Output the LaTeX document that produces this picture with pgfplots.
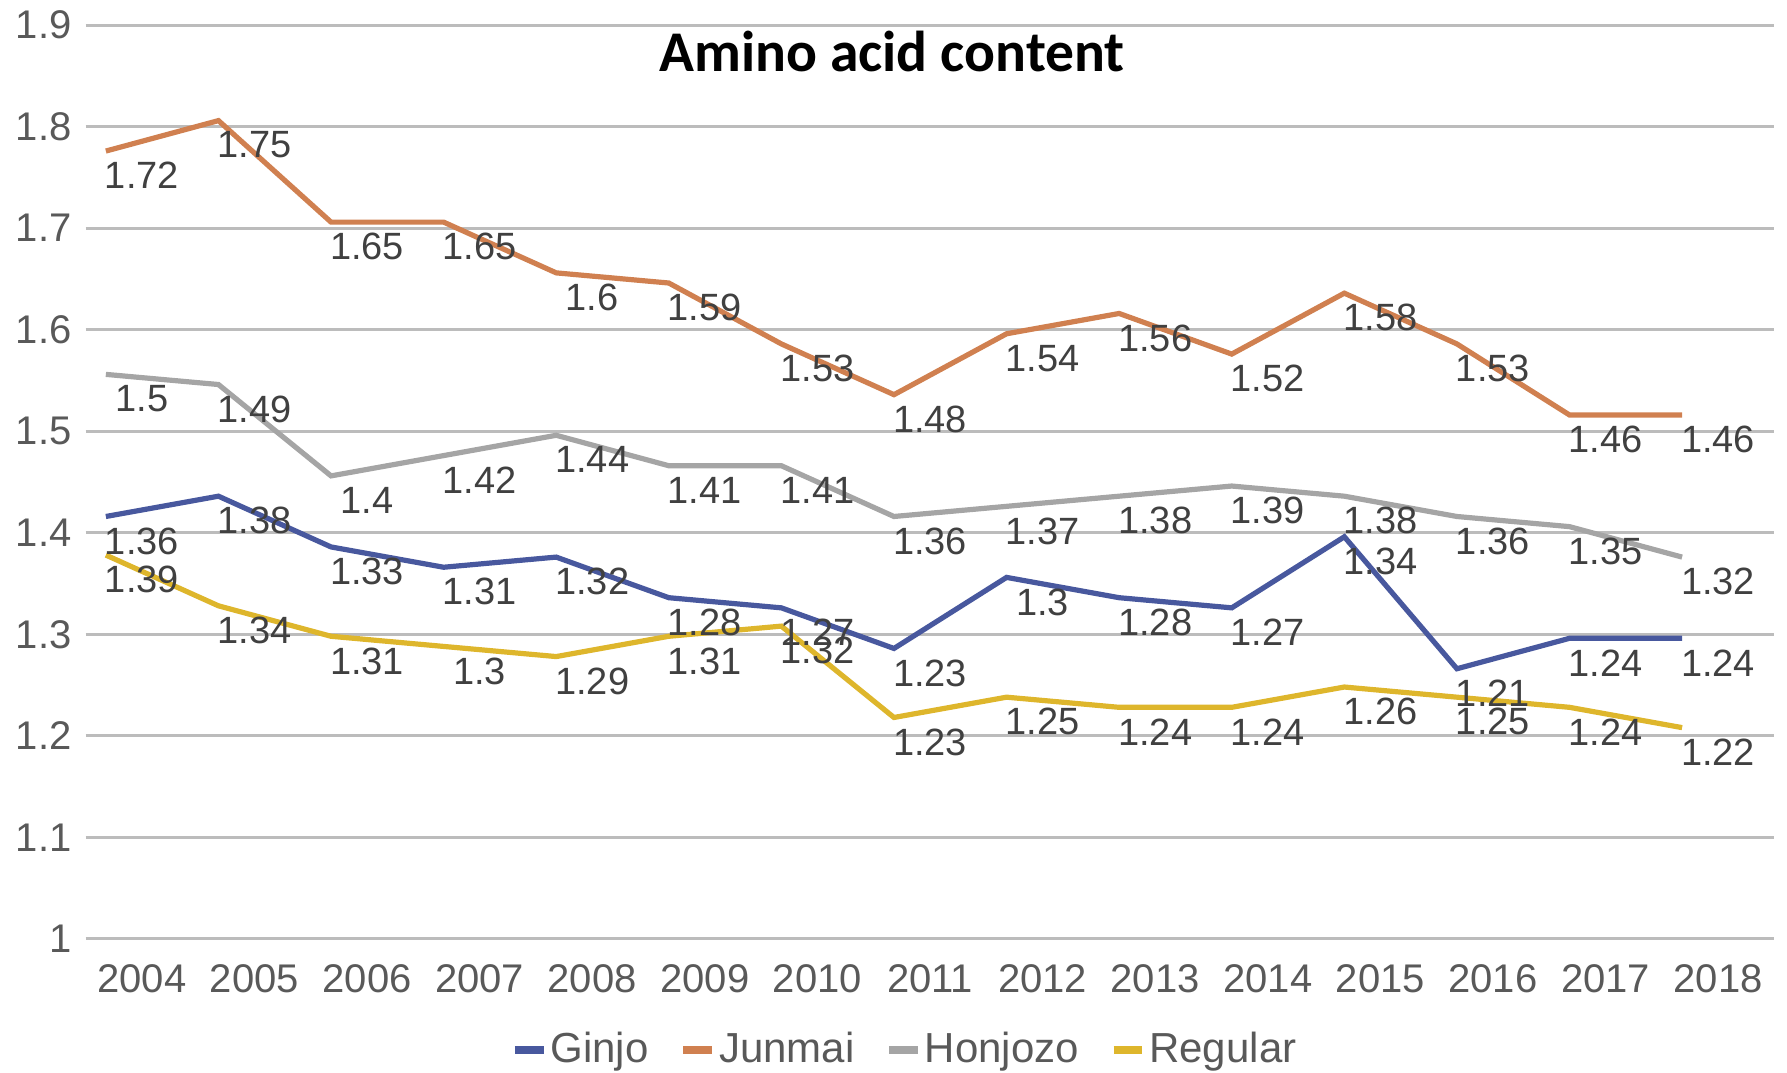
\documentclass[border=0pt]{standalone}
\usepackage{fontspec}
\setmainfont{Liberation Sans}
\newfontfamily\titlefont{Carlito}
\usepackage{pgfplots}
\usepackage{pgfplotstable}
\pgfplotsset{compat=1.18}
\definecolor{cGinjo}{RGB}{72,88,158}
\definecolor{cJunmai}{RGB}{208,128,80}
\definecolor{cHonjozo}{RGB}{165,165,165}
\definecolor{cRegular}{RGB}{222,182,44}
\definecolor{cGrid}{RGB}{188,188,188}
\definecolor{cTick}{RGB}{89,89,89}
\definecolor{cLab}{RGB}{64,64,64}

\pgfplotstableread{
xl y lab
0 1.416 1.36
1 1.436 1.38
2 1.386 1.33
3 1.366 1.31
4 1.376 1.32
5 1.336 1.28
6 1.326 1.27
7 1.286 1.23
8 1.356 1.3
9 1.336 1.28
10 1.326 1.27
11 1.396 1.34
12 1.266 1.21
13 1.296 1.24
14 1.296 1.24
}\ginjo
\pgfplotstableread{
xl y lab
0 1.776 1.72
1 1.806 1.75
2 1.706 1.65
3 1.706 1.65
4 1.656 1.6
5 1.646 1.59
6 1.586 1.53
7 1.536 1.48
8 1.596 1.54
9 1.616 1.56
10 1.576 1.52
11 1.636 1.58
12 1.586 1.53
13 1.516 1.46
14 1.516 1.46
}\junmai
\pgfplotstableread{
xl y lab
0 1.556 1.5
1 1.546 1.49
2 1.456 1.4
3 1.476 1.42
4 1.496 1.44
5 1.466 1.41
6 1.466 1.41
7 1.416 1.36
8 1.426 1.37
9 1.436 1.38
10 1.446 1.39
11 1.436 1.38
12 1.416 1.36
13 1.406 1.35
14 1.376 1.32
}\honjozo
\pgfplotstableread{
xl y lab
0 1.378 1.39
1 1.328 1.34
2 1.298 1.31
3 1.288 1.3
4 1.278 1.29
5 1.298 1.31
6 1.308 1.32
7 1.218 1.23
8 1.238 1.25
9 1.228 1.24
10 1.228 1.24
11 1.248 1.26
12 1.238 1.25
13 1.228 1.24
14 1.208 1.22
}\regular

\begin{document}
\begin{tikzpicture}
\begin{axis}[
  scale only axis,
  width=422.2pt, height=228.4pt,
  xmin=-0.5, xmax=14.5,
  ymin=1, ymax=1.9,
  ytick={1,1.1,1.2,1.3,1.4,1.5,1.6,1.7,1.8,1.9},
  yticklabels={1,1.1,1.2,1.3,1.4,1.5,1.6,1.7,1.8,1.9},
  xtick={0,1,2,3,4,5,6,7,8,9,10,11,12,13,14},
  xticklabels={2004,2005,2006,2007,2008,2009,2010,2011,2012,2013,2014,2015,2016,2017,2018},
  axis line style={draw=none},
  major tick length=0pt,
  tick style={draw=none},
  ymajorgrids,
  grid style={cGrid, line width=0.8pt},
  tick label style={font=\fontsize{10}{12}\selectfont, text=cTick},
  xticklabel style={yshift=-3pt},
  /pgf/number format/assume math mode=true,
  clip=false,
  every axis title shift=0pt,
  title={Amino acid content},
  title style={font=\titlefont\bfseries\fontsize{14.4}{16}\selectfont, at={(axis description cs:0.4775,0.9715)}, anchor=center},
  legend style={draw=none, fill=none, at={(axis description cs:0.485,-0.1217)}, anchor=center,
    legend columns=-1, font=\fontsize{10.5}{12}\selectfont, text=cTick,
    nodes={inner xsep=0.6pt},
    /tikz/every even column/.append style={column sep=7pt}, inner sep=0pt},
  legend image code/.code={\draw[#1, line width=2.2pt] (0pt,0pt) -- (7.2pt,0pt);},
  every node near coord/.style={anchor=north, inner sep=0pt, yshift=-2.6pt, font=\fontsize{9.5}{11}\selectfont, text=cLab},
]
\addplot[cGinjo, line width=1.3pt] table[x expr=\thisrow{xl}-0.32, y=y] {\ginjo};
\addlegendentry{Ginjo}
\addplot[cJunmai, line width=1.3pt] table[x expr=\thisrow{xl}-0.32, y=y] {\junmai};
\addlegendentry{Junmai}
\addplot[cHonjozo, line width=1.3pt] table[x expr=\thisrow{xl}-0.32, y=y] {\honjozo};
\addlegendentry{Honjozo}
\addplot[cRegular, line width=1.3pt] table[x expr=\thisrow{xl}-0.32, y=y] {\regular};
\addlegendentry{Regular}

\addplot[draw=none, forget plot, nodes near coords, point meta=explicit symbolic] table[x=xl, y=y, meta=lab] {\ginjo};
\addplot[draw=none, forget plot, nodes near coords, point meta=explicit symbolic] table[x=xl, y=y, meta=lab] {\junmai};
\addplot[draw=none, forget plot, nodes near coords, point meta=explicit symbolic] table[x=xl, y=y, meta=lab] {\honjozo};
\addplot[draw=none, forget plot, nodes near coords, point meta=explicit symbolic] table[x=xl, y=y, meta=lab] {\regular};
\end{axis}
\pgfresetboundingbox
\path[use as bounding box] ([xshift=-21.4pt,yshift=-33.55pt]current axis.south west) rectangle ([xshift=3.15pt,yshift=6.3pt]current axis.north east);
\end{tikzpicture}
\end{document}
